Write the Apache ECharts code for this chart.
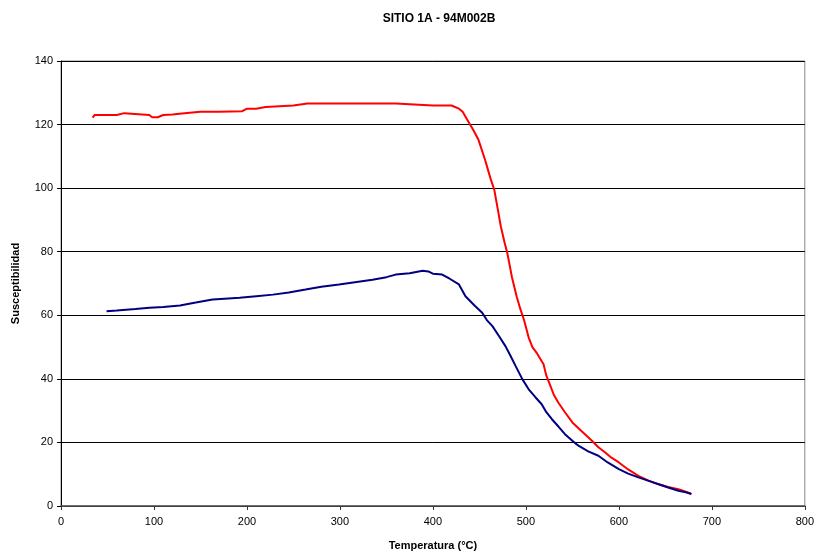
<!DOCTYPE html>
<html>
<head>
<meta charset="utf-8">
<script src="https://cdn.jsdelivr.net/npm/echarts@6/dist/echarts.min.js"></script>
<style>
  html, body { margin: 0; padding: 0; background: #fff; }
  #chart { width: 817px; height: 556px; }
</style>
</head>
<body>
<div id="chart"></div>
<script>
// datos: [temperatura, susceptibilidad]
const calentamiento = [
  [34,122.2],[36,123],[60,123],[68,123.6],[70,123],[95,123],[98,122.3],[104,122.3],[110,123],
  [120,123.2],[130,123.5],[150,124],[170,124],[195,124.2],[200,125],[210,125],[220,125.5],
  [250,126],[265,126.6],[300,126.6],[330,126.6],[360,126.6],[380,126.3],[400,126],[420,126],
  [428,125],[432,124],[438,121],[443,118.5],[449,115.2],[456,109],[462,103],[466,99.5],
  [470,93],[473,88],[477,83],[480,79.6],[485,72],[490,66],[494,62],[498,58.5],[503,53],
  [507,50],[512,48],[519,44.6],[522,41],[525,38.8],[530,35],[535,32.5],[542,29.5],[550,26.3],
  [560,23.5],[571,20.5],[578,18.5],[585,16.9],[592,15.2],[600,13.7],[610,11.5],[621,9.5],
  [632,8],[642,6.9],[653,6],[664,5.3],[672,4.5],[678,3.8]
];
const enfriamiento = [
  [49,61.3],[60,61.5],[80,62],[95,62.4],[110,62.6],[128,63.1],[145,64],[163,65],[180,65.3],
  [192,65.5],[210,66],[228,66.5],[245,67.2],[263,68.1],[280,69],[299,69.7],[318,70.5],
  [335,71.2],[350,72],[360,72.8],[375,73.2],[389,74],[395,73.8],[400,73.1],[410,72.8],
  [418,71.5],[428,69.7],[435,66],[445,63],[453,60.8],[458,58.5],[464,56.6],[471,53.5],
  [478,50.3],[483,47.5],[489,44],[496,40],[503,36.7],[510,34.3],[517,32],[522,29.5],
  [528,27.3],[535,25],[542,22.6],[550,20.5],[557,18.9],[567,17.2],[578,15.8],[588,13.7],
  [600,11.6],[610,10.2],[621,9],[632,7.9],[642,6.9],[653,5.8],[664,4.8],[672,4.3],[678,3.8]
];

const myEcharts = echarts.init(document.getElementById('chart'))
myEcharts.setOption({
  animation: false,
  textStyle: { fontFamily: 'Liberation Sans, Arial, sans-serif' },
  title: {
    text: 'SITIO 1A - 94M002B',
    left: 434,
    textAlign: 'center',
    top: 8,
    textStyle: { fontSize: 12, fontWeight: 'bold', color: '#000' }
  },
  grid: {
    left: 61, right: 10, top: 61, bottom: 49,
    show: true, borderColor: '#888', borderWidth: 1, backgroundColor: '#fff'
  },
  xAxis: {
    type: 'value', min: 0, max: 800, interval: 100,
    name: 'Temperatura (°C)', nameLocation: 'middle', nameGap: 34,
    nameTextStyle: { fontSize: 11, fontWeight: 'bold', color: '#000' },
    axisLine: { onZero: false, lineStyle: { color: '#555', width: 1.5 } },
    axisTick: { show: true, length: 4, lineStyle: { color: '#333' } },
    axisLabel: { fontSize: 11, color: '#000', margin: 10 },
    splitLine: { show: false }
  },
  yAxis: {
    type: 'value', min: 0, max: 140, interval: 20,
    name: 'Susceptibilidad', nameLocation: 'middle', nameGap: 40,
    nameTextStyle: { fontSize: 11, fontWeight: 'bold', color: '#000' },
    axisLine: { show: true, lineStyle: { color: '#000', width: 1 } },
    axisTick: { show: true, length: 4, lineStyle: { color: '#000' } },
    axisLabel: { fontSize: 11, color: '#000', margin: 8 },
    splitLine: { show: true, lineStyle: { color: '#000', width: 1 } }
  },
  series: [
    {
      type: 'line', data: calentamiento, showSymbol: false,
      lineStyle: { color: '#ff0000', width: 2 }
    },
    {
      type: 'line', data: enfriamiento, showSymbol: false,
      lineStyle: { color: '#000080', width: 2 }
    }
  ]
})
</script>
</body>
</html>
